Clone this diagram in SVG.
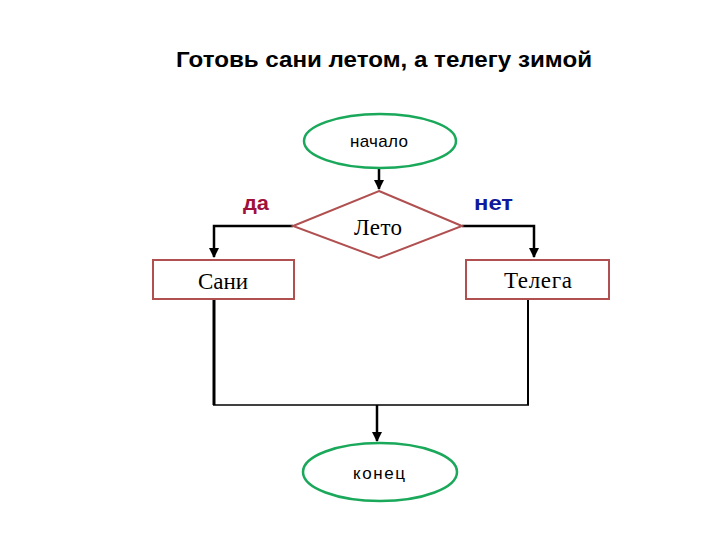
<svg xmlns="http://www.w3.org/2000/svg" width="720" height="540" viewBox="0 0 720 540">
<defs>
<marker id="ah" viewBox="0 0 10 10" refX="9" refY="5" markerWidth="4" markerHeight="4" orient="auto" markerUnits="strokeWidth">
<path d="M0,0 L10,5 L0,10 z" fill="#000"/>
</marker>
<style>
.term{fill:#fff;stroke:#1aa85a;stroke-width:2.5}
.proc{fill:#fff;stroke:#b05050;stroke-width:2}
.dec{fill:#fff;stroke:#b05050;stroke-width:2}
.sans{font-family:"Liberation Sans",Arial,sans-serif}
.serif{font-family:"Liberation Serif","Times New Roman",serif}
.conn{fill:none;stroke:#000;stroke-width:2.5}
</style>
</defs>
<rect width="720" height="540" fill="#fff"/>
<text x="176" y="67" class="sans" font-size="22" font-weight="bold" textLength="416" lengthAdjust="spacingAndGlyphs">Готовь сани летом, а телегу зимой</text>
<g id="connectors">
<path class="conn" d="M379,168 V189" marker-end="url(#ah)"/>
<path class="conn" d="M293,226 H214 V257" marker-end="url(#ah)"/>
<path class="conn" d="M462,226 H534 V257" marker-end="url(#ah)"/>
<path fill="none" stroke="#000" stroke-width="3" d="M214,299 V405"/>
<path fill="none" stroke="#000" stroke-width="2" d="M528,299 V405"/>
<path fill="none" stroke="#000" stroke-width="1.5" d="M213,405 H529"/>
<path class="conn" d="M377,405 V441" marker-end="url(#ah)"/>
<text x="243" y="210" class="sans" font-size="20" font-weight="bold" fill="#a0103a" textLength="26" lengthAdjust="spacingAndGlyphs">да</text>
<text x="474" y="210" class="sans" font-size="20" font-weight="bold" fill="#101a9a" textLength="39" lengthAdjust="spacingAndGlyphs">нет</text>
</g>
<g id="start">
<ellipse class="term" cx="380" cy="141" rx="76" ry="27"/>
<text x="350" y="147" class="sans" font-size="17" textLength="58" lengthAdjust="spacing">начало</text>
</g>
<g id="decision">
<polygon class="dec" points="379,191 462,226 379,258 293,226"/>
<text x="354" y="235" class="serif" font-size="23" textLength="48" lengthAdjust="spacing">Лето</text>
</g>
<g id="sani">
<rect class="proc" x="153" y="260" width="141" height="39"/>
<text x="198" y="289" class="serif" font-size="23" textLength="50" lengthAdjust="spacing">Сани</text>
</g>
<g id="telega">
<rect class="proc" x="466" y="260" width="143" height="39"/>
<text x="504" y="288" class="serif" font-size="23" textLength="68" lengthAdjust="spacing">Телега</text>
</g>
<g id="end">
<ellipse class="term" cx="380" cy="472" rx="77" ry="29"/>
<text x="353" y="479" class="sans" font-size="17" textLength="52" lengthAdjust="spacing">конец</text>
</g>
</svg>
